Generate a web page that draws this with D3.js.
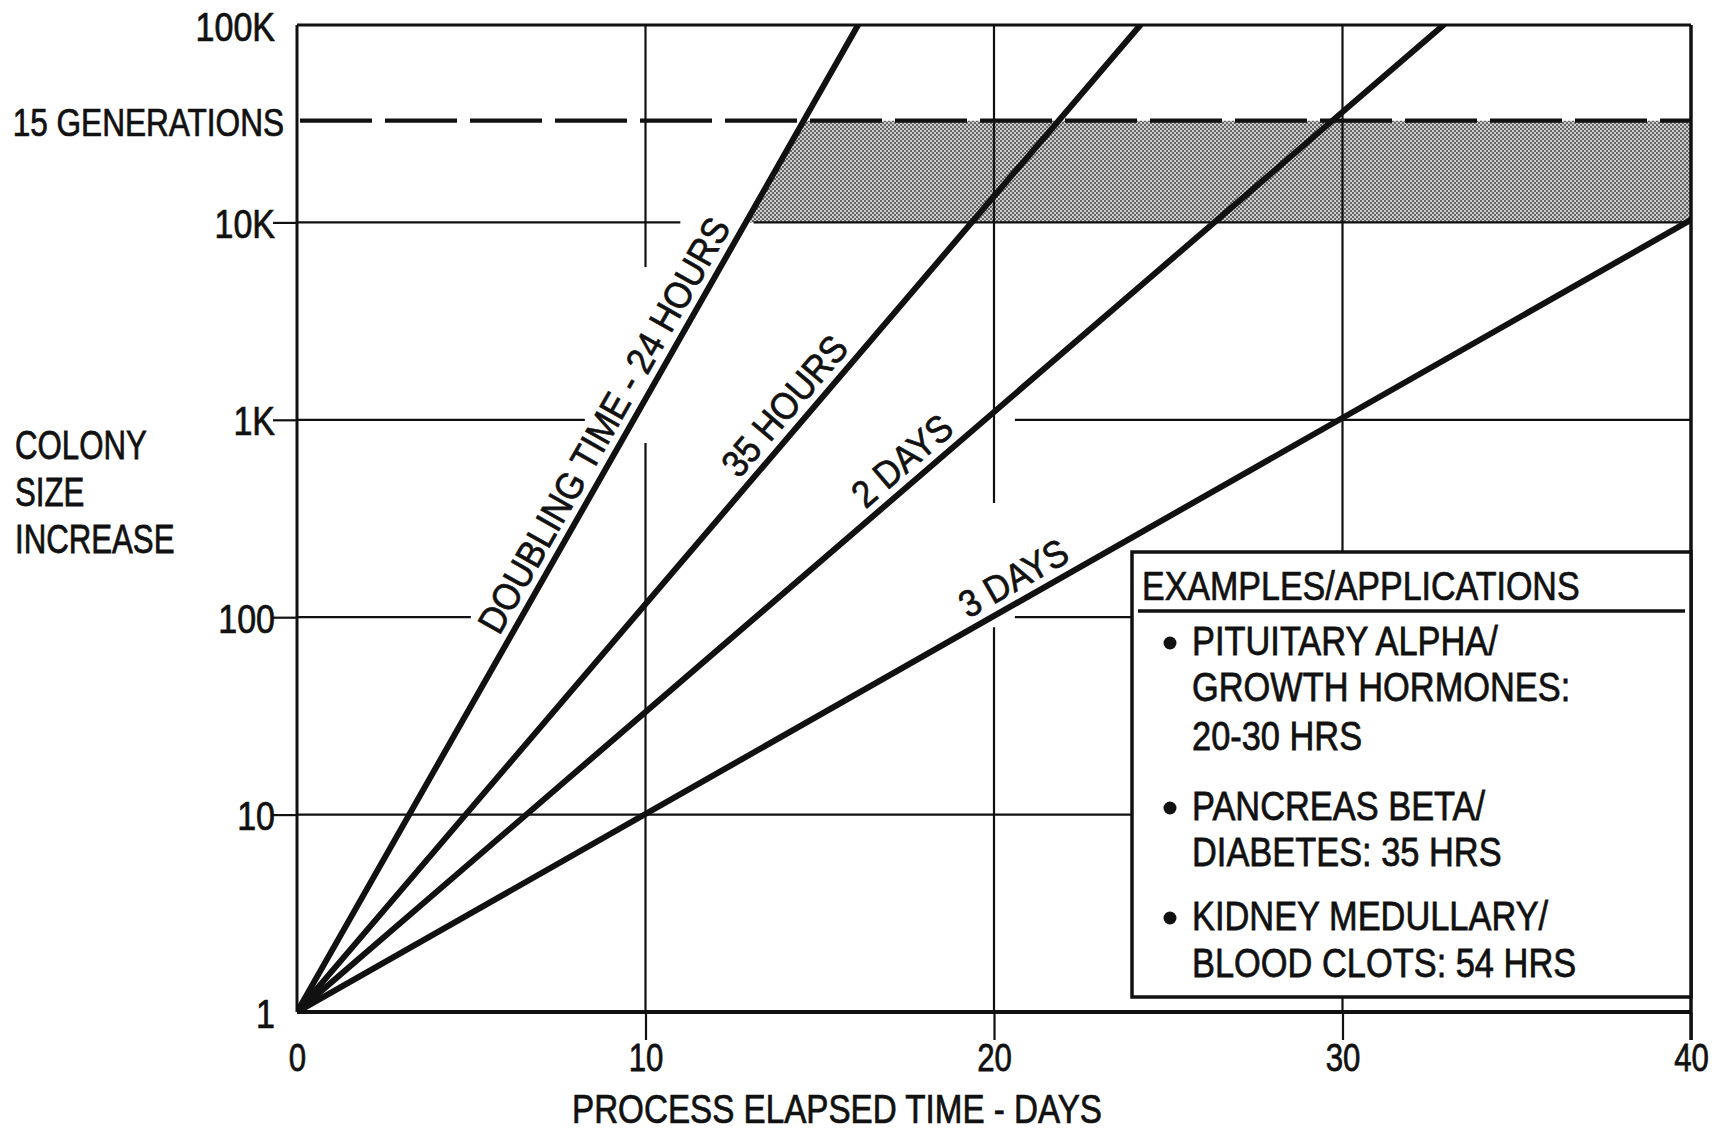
<!DOCTYPE html>
<html>
<head>
<meta charset="utf-8">
<script src="https://cdn.jsdelivr.net/npm/d3@7"></script>
<style>
  html, body { margin: 0; padding: 0; background: #fff; }
  svg { display: block; }
  text { font-family: "Liberation Sans", Arial, sans-serif; fill: #111; stroke: #111; stroke-width: 0.75px; }
</style>
</head>
<body>
<svg id="chart" width="1721" height="1134"></svg>
<script>
// ---- data -------------------------------------------------------------
// Each doubling-time line runs from (day 0, size 1) to the point where it leaves the grid.
const curveNames      = ["24 HOURS", "35 HOURS", "2 DAYS", "3 DAYS"];
const curveStartDay   = [0, 0, 0, 0];
const curveStartSize  = [1, 1, 1, 1];
const curveEndDay     = [16.1, 24.2, 32.9, 40];
const curveEndSize    = [100000, 100000, 100000, 10300];
const curveLabels     = ["DOUBLING TIME - 24 HOURS", "35 HOURS", "2 DAYS", "3 DAYS"];
const curveLabelDay   = [6.05, 12.9, 16.5, 19.4];   // where each label starts along its line

const xTickValues = [0, 10, 20, 30, 40];
const xTickLabels = ["0", "10", "20", "30", "40"];
const yTickValues = [1, 10, 100, 1000, 10000, 100000];
const yTickLabels = ["1", "10", "100", "1K", "10K", "100K"];

const generationsLabel = "15 GENERATIONS";
const generationsSize  = 32768;     // 2^15 cells
const bandLowSize      = 10000;     // lower edge of the shaded target band

const legendTitle = "EXAMPLES/APPLICATIONS";
const legendItems = [
  ["PITUITARY ALPHA/", "GROWTH HORMONES:", "20-30 HRS"],
  ["PANCREAS BETA/", "DIABETES:  35 HRS"],
  ["KIDNEY MEDULLARY/", "BLOOD CLOTS:  54 HRS"]
];

const yTitle = ["COLONY", "SIZE", "INCREASE"];
const xTitle = "PROCESS ELAPSED TIME - DAYS";

// ---- layout -----------------------------------------------------------
const INK = "#111";
const svg = d3.select("#chart");

const x = d3.scaleLinear().domain([0, 40]).range([297, 1691]);
const y = d3.scaleLog().domain([1, 100000]).range([1012, 25]);

// Grid segments are broken where the hand lettering sits.
const hGrid = [
  { v: 10,    spans: [[0, 40]] },
  { v: 100,   spans: [[0, 4.99], [20.6, 40]] },
  { v: 1000,  spans: [[0, 8.26], [20.6, 40]] },
  { v: 10000, spans: [[0, 11.0], [13.1, 40]] }
];
const vGrid = [
  { d: 10, spans: [[1, 763], [5940, 100000]] },
  { d: 20, spans: [[1, 89], [379, 100000]] },
  { d: 30, spans: [[1, 100000]] }
];

// Horizontal squeeze that gives Liberation Sans the narrow drafting-lettering look.
function letter(g, s, px, py, opt) {
  const o = Object.assign({ size: 40, sx: 0.8, anchor: "start", rotate: 0 }, opt || {});
  return g.append("text")
    .attr("transform", `translate(${px},${py}) rotate(${o.rotate}) scale(${o.sx},1)`)
    .attr("text-anchor", o.anchor)
    .attr("font-size", o.size)
    .text(s);
}

const defs = svg.append("defs");
defs.append("clipPath").attr("id", "plot-clip")
  .append("rect")
  .attr("x", x(0)).attr("y", y(100000))
  .attr("width", x(40) - x(0)).attr("height", y(1) - y(100000));

const pat = defs.append("pattern").attr("id", "stipple")
  .attr("patternUnits", "userSpaceOnUse").attr("width", 4).attr("height", 4);
pat.append("rect").attr("width", 4).attr("height", 4).attr("fill", "#cdcdcd");
pat.append("circle").attr("cx", 1).attr("cy", 1).attr("r", 0.95).attr("fill", "#3a3a3a");
pat.append("circle").attr("cx", 3).attr("cy", 3).attr("r", 0.95).attr("fill", "#3a3a3a");

const curves = curveNames.map((name, i) => ({
  name,
  label: curveLabels[i],
  labelDay: curveLabelDay[i],
  pts: [[curveStartDay[i], curveStartSize[i]], [curveEndDay[i], curveEndSize[i]]]
}));

const line = d3.line().x(d => x(d[0])).y(d => y(d[1]));

// day on a straight (log-linear) line where it reaches a given size
function dayAtSize(c, size) {
  const [p0, p1] = c.pts;
  const py0 = y(p0[1]), py1 = y(p1[1]);
  const f = (y(size) - py0) / (py1 - py0);
  return x.invert(x(p0[0]) + f * (x(p1[0]) - x(p0[0])));
}

// ---- shaded target band (10K .. 15 generations, right of the 24 h line) ----
const fast = curves[0];
const band = [
  [dayAtSize(fast, bandLowSize), bandLowSize],
  [dayAtSize(fast, generationsSize), generationsSize],
  [40, generationsSize],
  [40, bandLowSize]
];
svg.append("path")
  .attr("d", line(band) + "Z")
  .attr("fill", "url(#stipple)");

// ---- grid -------------------------------------------------------------
const grid = svg.append("g").attr("stroke", INK).attr("stroke-width", 2.2).attr("fill", "none");
hGrid.forEach(h => h.spans.forEach(s => {
  grid.append("line")
    .attr("x1", x(s[0])).attr("x2", x(s[1]))
    .attr("y1", y(h.v)).attr("y2", y(h.v));
}));
vGrid.forEach(v => v.spans.forEach(s => {
  grid.append("line")
    .attr("x1", x(v.d)).attr("x2", x(v.d))
    .attr("y1", y(s[0])).attr("y2", y(s[1]));
}));

// 15 generations reference (dashed)
svg.append("line")
  .attr("x1", x(0) + 3).attr("x2", x(40))
  .attr("y1", y(generationsSize)).attr("y2", y(generationsSize))
  .attr("stroke", INK).attr("stroke-width", 4.2)
  .attr("stroke-dasharray", "72 13");

// ---- axes ---------------------------------------------------------------
const yAxis = d3.axisLeft(y)
  .tickValues(yTickValues)
  .tickFormat((d, i) => yTickLabels[i])
  .tickSize(24).tickPadding(0);
const gy = svg.append("g").attr("transform", `translate(${x(0)},0)`).call(yAxis);
gy.select(".domain").remove();
gy.selectAll(".tick line")
  .attr("stroke", INK).attr("stroke-width", 2.2)
  .attr("opacity", d => (d === 1 || d === 100000) ? 0 : 1);
gy.selectAll(".tick text")
  .attr("x", null).attr("dy", null)
  .attr("font-family", null).attr("fill", INK)
  .attr("font-size", 40)
  .attr("text-anchor", "end")
  .attr("transform", "translate(-22,15) scale(0.85,1)");

const xAxis = d3.axisBottom(x)
  .tickValues(xTickValues)
  .tickFormat((d, i) => xTickLabels[i])
  .tickSize(28).tickPadding(0);
const gx = svg.append("g").attr("transform", `translate(0,${y(1)})`).call(xAxis);
gx.select(".domain").remove();
gx.selectAll(".tick line")
  .attr("stroke", INK).attr("stroke-width", 2.2)
  .attr("opacity", d => d === 0 ? 0 : 1);
gx.selectAll(".tick text")
  .attr("y", null).attr("dy", null)
  .attr("font-family", null).attr("fill", INK)
  .attr("font-size", 39)
  .attr("text-anchor", "middle")
  .attr("transform", "translate(0,59) scale(0.8,1)");

letter(svg, generationsLabel, 284, y(generationsSize) + 15, { size: 39, sx: 0.81, anchor: "end" });

// ---- doubling-time lines --------------------------------------------------
svg.append("g").attr("clip-path", "url(#plot-clip)")
  .selectAll("path").data(curves).join("path")
  .attr("d", c => line(c.pts))
  .attr("fill", "none")
  .attr("stroke", INK)
  .attr("stroke-width", 6)
  .attr("stroke-linecap", "round");

// labels run along their lines, lifted off the upper-left side
curves.forEach(c => {
  const [p0, p1] = c.pts;
  const X0 = x(p0[0]), Y0 = y(p0[1]), X1 = x(p1[0]), Y1 = y(p1[1]);
  const ang = Math.atan2(Y1 - Y0, X1 - X0);
  const f = (x(c.labelDay) - X0) / (X1 - X0);
  const off = 10;
  const px = X0 + f * (X1 - X0) + off * Math.sin(ang);
  const py = Y0 + f * (Y1 - Y0) - off * Math.cos(ang);
  letter(svg, c.label, px, py, { size: 38, sx: 0.9, rotate: ang * 180 / Math.PI });
});

// ---- frame --------------------------------------------------------------
const frame = svg.append("g").attr("stroke", INK).attr("fill", "none");
frame.append("line").attr("x1", x(0)).attr("x2", x(0)).attr("y1", y(100000)).attr("y2", y(1)).attr("stroke-width", 3);
frame.append("line").attr("x1", x(0)).attr("x2", x(40)).attr("y1", y(100000)).attr("y2", y(100000)).attr("stroke-width", 3);
frame.append("line").attr("x1", x(40)).attr("x2", x(40)).attr("y1", y(100000)).attr("y2", y(1) + 28).attr("stroke-width", 3.5);
frame.append("line").attr("x1", x(0)).attr("x2", x(40)).attr("y1", y(1)).attr("y2", y(1)).attr("stroke-width", 4);

// ---- axis titles --------------------------------------------------------
yTitle.forEach((s, i) => letter(svg, s, 15, 459 + i * 47, { size: 40, sx: 0.78 }));
letter(svg, xTitle, 572, 1123, { size: 40, sx: 0.83 });

// ---- legend box ------------------------------------------------------------
const lg = svg.append("g");
const box = { x0: 1132, y0: 552, x1: x(40), y1: 997 };
lg.append("rect")
  .attr("x", box.x0).attr("y", box.y0)
  .attr("width", box.x1 - box.x0).attr("height", box.y1 - box.y0)
  .attr("fill", "#fff").attr("stroke", INK).attr("stroke-width", 3.5);
letter(lg, legendTitle, 1142, 600, { size: 40, sx: 0.85 });
lg.append("line")
  .attr("x1", 1138).attr("x2", 1685).attr("y1", 611).attr("y2", 611)
  .attr("stroke", INK).attr("stroke-width", 3.5);

const itemBaselines = [[655, 701, 750], [820, 866], [930, 977]];
legendItems.forEach((lines, i) => {
  lg.append("circle")
    .attr("cx", 1170).attr("cy", itemBaselines[i][0] - 12).attr("r", 6.5)
    .attr("fill", INK);
  lines.forEach((s, j) => letter(lg, s, 1192, itemBaselines[i][j], { size: 40, sx: 0.86 }));
});
</script>
</body>
</html>
